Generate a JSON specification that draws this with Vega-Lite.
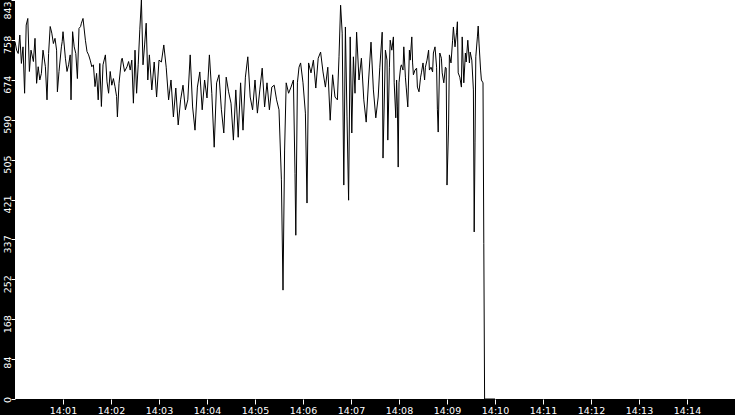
{
  "$schema": "https://vega.github.io/schema/vega-lite/v6.json",
  "width": 720,
  "height": 399,
  "autosize": {"type": "none"},
  "padding": {"left": 15, "top": 0, "right": 0, "bottom": 16},
  "background": "#000000",
  "view": {"fill": "#ffffff", "stroke": null},
  "data": {
    "format": {"parse": {"t": "date:'%H:%M:%S'"}},
    "values": [
      {"t": "14:00:00", "v": 755}, {"t": "14:00:02", "v": 737}, {"t": "14:00:04", "v": 730}, {"t": "14:00:06", "v": 769},
      {"t": "14:00:08", "v": 709}, {"t": "14:00:10", "v": 744}, {"t": "14:00:12", "v": 646}, {"t": "14:00:14", "v": 790},
      {"t": "14:00:16", "v": 804}, {"t": "14:00:18", "v": 692}, {"t": "14:00:20", "v": 737}, {"t": "14:00:23", "v": 713},
      {"t": "14:00:25", "v": 762}, {"t": "14:00:27", "v": 667}, {"t": "14:00:29", "v": 702}, {"t": "14:00:31", "v": 674},
      {"t": "14:00:33", "v": 688}, {"t": "14:00:35", "v": 737}, {"t": "14:00:38", "v": 702}, {"t": "14:00:40", "v": 632},
      {"t": "14:00:42", "v": 730}, {"t": "14:00:44", "v": 787}, {"t": "14:00:46", "v": 773}, {"t": "14:00:48", "v": 751},
      {"t": "14:00:50", "v": 762}, {"t": "14:00:52", "v": 737}, {"t": "14:00:53", "v": 649}, {"t": "14:00:55", "v": 692},
      {"t": "14:00:58", "v": 744}, {"t": "14:00:59", "v": 755}, {"t": "14:01:00", "v": 776}, {"t": "14:01:03", "v": 720},
      {"t": "14:01:05", "v": 692}, {"t": "14:01:07", "v": 706}, {"t": "14:01:09", "v": 727}, {"t": "14:01:10", "v": 632},
      {"t": "14:01:12", "v": 776}, {"t": "14:01:14", "v": 744}, {"t": "14:01:16", "v": 730}, {"t": "14:01:18", "v": 677},
      {"t": "14:01:20", "v": 783}, {"t": "14:01:22", "v": 787}, {"t": "14:01:23", "v": 794}, {"t": "14:01:25", "v": 804},
      {"t": "14:01:28", "v": 758}, {"t": "14:01:30", "v": 734}, {"t": "14:01:32", "v": 727}, {"t": "14:01:34", "v": 716},
      {"t": "14:01:36", "v": 702}, {"t": "14:01:38", "v": 706}, {"t": "14:01:40", "v": 660}, {"t": "14:01:42", "v": 688},
      {"t": "14:01:44", "v": 632}, {"t": "14:01:46", "v": 709}, {"t": "14:01:48", "v": 618}, {"t": "14:01:50", "v": 706},
      {"t": "14:01:53", "v": 727}, {"t": "14:01:55", "v": 670}, {"t": "14:01:57", "v": 646}, {"t": "14:01:59", "v": 692},
      {"t": "14:02:01", "v": 663}, {"t": "14:02:03", "v": 677}, {"t": "14:02:05", "v": 660}, {"t": "14:02:07", "v": 639},
      {"t": "14:02:08", "v": 596}, {"t": "14:02:10", "v": 667}, {"t": "14:02:13", "v": 716}, {"t": "14:02:14", "v": 720},
      {"t": "14:02:17", "v": 692}, {"t": "14:02:20", "v": 702}, {"t": "14:02:22", "v": 713}, {"t": "14:02:24", "v": 695},
      {"t": "14:02:26", "v": 716}, {"t": "14:02:28", "v": 625}, {"t": "14:02:29", "v": 674},
      {"t": "14:02:30", "v": 737}, {"t": "14:02:32", "v": 646},
      {"t": "14:02:34", "v": 706}, {"t": "14:02:36", "v": 780}, {"t": "14:02:38", "v": 843}, {"t": "14:02:40", "v": 706},
      {"t": "14:02:42", "v": 748}, {"t": "14:02:44", "v": 794}, {"t": "14:02:46", "v": 674}, {"t": "14:02:48", "v": 727},
      {"t": "14:02:51", "v": 653}, {"t": "14:02:54", "v": 712}, {"t": "14:02:57", "v": 638}, {"t": "14:03:00", "v": 716},
      {"t": "14:03:03", "v": 712}, {"t": "14:03:06", "v": 748}, {"t": "14:03:09", "v": 701}, {"t": "14:03:12", "v": 632},
      {"t": "14:03:15", "v": 674}, {"t": "14:03:18", "v": 596}, {"t": "14:03:21", "v": 657}, {"t": "14:03:24", "v": 579},
      {"t": "14:03:27", "v": 632}, {"t": "14:03:30", "v": 663}, {"t": "14:03:33", "v": 611}, {"t": "14:03:36", "v": 632},
      {"t": "14:03:39", "v": 727}, {"t": "14:03:42", "v": 617}, {"t": "14:03:45", "v": 568}, {"t": "14:03:48", "v": 659},
      {"t": "14:03:51", "v": 691}, {"t": "14:03:54", "v": 611}, {"t": "14:03:57", "v": 674}, {"t": "14:04:00", "v": 636},
      {"t": "14:04:03", "v": 727}, {"t": "14:04:06", "v": 646}, {"t": "14:04:09", "v": 532}, {"t": "14:04:12", "v": 668},
      {"t": "14:04:15", "v": 685}, {"t": "14:04:18", "v": 611}, {"t": "14:04:21", "v": 562}, {"t": "14:04:24", "v": 680},
      {"t": "14:04:27", "v": 649}, {"t": "14:04:30", "v": 625}, {"t": "14:04:33", "v": 547}, {"t": "14:04:36", "v": 653},
      {"t": "14:04:39", "v": 553}, {"t": "14:04:42", "v": 668}, {"t": "14:04:45", "v": 568}, {"t": "14:04:48", "v": 680},
      {"t": "14:04:51", "v": 723}, {"t": "14:04:54", "v": 638}, {"t": "14:04:57", "v": 611}, {"t": "14:05:00", "v": 674},
      {"t": "14:05:03", "v": 604}, {"t": "14:05:06", "v": 653}, {"t": "14:05:09", "v": 699}, {"t": "14:05:12", "v": 617},
      {"t": "14:05:15", "v": 668}, {"t": "14:05:18", "v": 611}, {"t": "14:05:21", "v": 659}, {"t": "14:05:24", "v": 663},
      {"t": "14:05:27", "v": 632}, {"t": "14:05:30", "v": 611}, {"t": "14:05:33", "v": 463}, {"t": "14:05:35", "v": 230},
      {"t": "14:05:37", "v": 526}, {"t": "14:05:39", "v": 668}, {"t": "14:05:42", "v": 646}, {"t": "14:05:45", "v": 659},
      {"t": "14:05:48", "v": 674}, {"t": "14:05:50", "v": 477}, {"t": "14:05:51", "v": 346}, {"t": "14:05:53", "v": 668},
      {"t": "14:05:55", "v": 701}, {"t": "14:05:57", "v": 710}, {"t": "14:06:00", "v": 668}, {"t": "14:06:03", "v": 604},
      {"t": "14:06:05", "v": 414}, {"t": "14:06:07", "v": 710}, {"t": "14:06:10", "v": 689}, {"t": "14:06:13", "v": 716},
      {"t": "14:06:16", "v": 657}, {"t": "14:06:19", "v": 720}, {"t": "14:06:22", "v": 733}, {"t": "14:06:25", "v": 691},
      {"t": "14:06:28", "v": 659}, {"t": "14:06:31", "v": 701}, {"t": "14:06:34", "v": 589}, {"t": "14:06:37", "v": 685},
      {"t": "14:06:40", "v": 638}, {"t": "14:06:43", "v": 632}, {"t": "14:06:45", "v": 723}, {"t": "14:06:47", "v": 832},
      {"t": "14:06:49", "v": 773}, {"t": "14:06:51", "v": 452}, {"t": "14:06:53", "v": 786}, {"t": "14:06:55", "v": 596},
      {"t": "14:06:57", "v": 420}, {"t": "14:06:59", "v": 765}, {"t": "14:07:01", "v": 562}, {"t": "14:07:03", "v": 723},
      {"t": "14:07:05", "v": 646}, {"t": "14:07:07", "v": 775}, {"t": "14:07:10", "v": 674}, {"t": "14:07:13", "v": 720},
      {"t": "14:07:16", "v": 632}, {"t": "14:07:19", "v": 585}, {"t": "14:07:22", "v": 674}, {"t": "14:07:25", "v": 754},
      {"t": "14:07:28", "v": 653}, {"t": "14:07:31", "v": 594}, {"t": "14:07:34", "v": 638}, {"t": "14:07:36", "v": 701},
      {"t": "14:07:39", "v": 775}, {"t": "14:07:40", "v": 509}, {"t": "14:07:43", "v": 737}, {"t": "14:07:45", "v": 716},
      {"t": "14:07:46", "v": 547}, {"t": "14:07:48", "v": 701}, {"t": "14:07:49", "v": 758}, {"t": "14:07:51", "v": 737},
      {"t": "14:07:53", "v": 765}, {"t": "14:07:54", "v": 668}, {"t": "14:07:56", "v": 594}, {"t": "14:07:57", "v": 674},
      {"t": "14:07:58", "v": 617}, {"t": "14:07:59", "v": 490}, {"t": "14:08:00", "v": 668}, {"t": "14:08:02", "v": 701},
      {"t": "14:08:03", "v": 706}, {"t": "14:08:05", "v": 695}, {"t": "14:08:06", "v": 744}, {"t": "14:08:08", "v": 680},
      {"t": "14:08:09", "v": 659}, {"t": "14:08:11", "v": 617}, {"t": "14:08:13", "v": 737}, {"t": "14:08:14", "v": 716},
      {"t": "14:08:16", "v": 765}, {"t": "14:08:17", "v": 710}, {"t": "14:08:18", "v": 685}, {"t": "14:08:20", "v": 695},
      {"t": "14:08:22", "v": 699}, {"t": "14:08:23", "v": 659}, {"t": "14:08:25", "v": 649}, {"t": "14:08:27", "v": 680},
      {"t": "14:08:28", "v": 689}, {"t": "14:08:30", "v": 710}, {"t": "14:08:32", "v": 674}, {"t": "14:08:33", "v": 701},
      {"t": "14:08:35", "v": 716}, {"t": "14:08:37", "v": 737}, {"t": "14:08:38", "v": 695}, {"t": "14:08:40", "v": 701},
      {"t": "14:08:42", "v": 691}, {"t": "14:08:43", "v": 731}, {"t": "14:08:45", "v": 744}, {"t": "14:08:47", "v": 701},
      {"t": "14:08:48", "v": 611}, {"t": "14:08:49", "v": 564}, {"t": "14:08:51", "v": 731}, {"t": "14:08:53", "v": 720},
      {"t": "14:08:54", "v": 689}, {"t": "14:08:56", "v": 668}, {"t": "14:08:58", "v": 701}, {"t": "14:08:59", "v": 699},
      {"t": "14:09:00", "v": 452}, {"t": "14:09:02", "v": 579}, {"t": "14:09:03", "v": 727}, {"t": "14:09:05", "v": 710},
      {"t": "14:09:07", "v": 758}, {"t": "14:09:08", "v": 786}, {"t": "14:09:10", "v": 744}, {"t": "14:09:12", "v": 775},
      {"t": "14:09:13", "v": 797}, {"t": "14:09:14", "v": 689}, {"t": "14:09:16", "v": 680}, {"t": "14:09:18", "v": 659},
      {"t": "14:09:19", "v": 765}, {"t": "14:09:21", "v": 668}, {"t": "14:09:23", "v": 731}, {"t": "14:09:24", "v": 712},
      {"t": "14:09:26", "v": 758}, {"t": "14:09:28", "v": 710}, {"t": "14:09:29", "v": 733}, {"t": "14:09:31", "v": 716},
      {"t": "14:09:33", "v": 653}, {"t": "14:09:34", "v": 353}, {"t": "14:09:35", "v": 541}, {"t": "14:09:36", "v": 723},
      {"t": "14:09:38", "v": 765}, {"t": "14:09:39", "v": 788}, {"t": "14:09:40", "v": 752}, {"t": "14:09:42", "v": 695},
      {"t": "14:09:43", "v": 674}, {"t": "14:09:45", "v": 668}, {"t": "14:09:46", "v": 329}, {"t": "14:09:47", "v": 0},
      {"t": "14:10:00", "v": 0}
    ]
  },
  "mark": {"type": "line", "color": "#000000", "strokeWidth": 1},
  "encoding": {
    "x": {
      "field": "t",
      "type": "temporal",
      "scale": {
        "domain": [
          {"year": 1900, "month": 1, "date": 1, "hours": 14, "minutes": 0},
          {"year": 1900, "month": 1, "date": 1, "hours": 14, "minutes": 15}
        ]
      },
      "axis": {
        "title": null,
        "format": "%H:%M",
        "values": [
          {"year": 1900, "month": 1, "date": 1, "hours": 14, "minutes": 1},
          {"year": 1900, "month": 1, "date": 1, "hours": 14, "minutes": 2},
          {"year": 1900, "month": 1, "date": 1, "hours": 14, "minutes": 3},
          {"year": 1900, "month": 1, "date": 1, "hours": 14, "minutes": 4},
          {"year": 1900, "month": 1, "date": 1, "hours": 14, "minutes": 5},
          {"year": 1900, "month": 1, "date": 1, "hours": 14, "minutes": 6},
          {"year": 1900, "month": 1, "date": 1, "hours": 14, "minutes": 7},
          {"year": 1900, "month": 1, "date": 1, "hours": 14, "minutes": 8},
          {"year": 1900, "month": 1, "date": 1, "hours": 14, "minutes": 9},
          {"year": 1900, "month": 1, "date": 1, "hours": 14, "minutes": 10},
          {"year": 1900, "month": 1, "date": 1, "hours": 14, "minutes": 11},
          {"year": 1900, "month": 1, "date": 1, "hours": 14, "minutes": 12},
          {"year": 1900, "month": 1, "date": 1, "hours": 14, "minutes": 13},
          {"year": 1900, "month": 1, "date": 1, "hours": 14, "minutes": 14}
        ],
        "grid": false,
        "domain": false,
        "tickColor": "#ffffff",
        "tickSize": 5,
        "labelColor": "#ffffff",
        "labelFont": "DejaVu Sans",
        "labelFontSize": 9.5,
        "labelBaseline": "alphabetic",
        "labelPadding": 9.5,
        "labelFlush": false,
        "labelOverlap": false
      }
    },
    "y": {
      "field": "v",
      "type": "quantitative",
      "scale": {"domain": [0, 843], "nice": false, "zero": true},
      "axis": {
        "title": null,
        "values": [0, 84.3, 168.6, 252.9, 337.2, 421.5, 505.8, 590.1, 674.4, 758.7, 843],
        "labelExpr": "floor(datum.value)",
        "grid": false,
        "domain": false,
        "tickColor": "#ffffff",
        "tickSize": 4,
        "labelColor": "#ffffff",
        "labelFont": "DejaVu Sans",
        "labelFontSize": 9.5,
        "labelAngle": -90,
        "labelAlign": "center",
        "labelBaseline": "alphabetic",
        "labelPadding": 1,
        "labelFlush": false,
        "labelOverlap": false,
        "labelOffset": {
          "condition": [
            {"test": "datum.value > 800", "value": 10},
            {"test": "datum.value < 1", "value": 0.5},
            {"test": "datum.value < 100", "value": 3}
          ],
          "value": 4.5
        }
      }
    }
  }
}
